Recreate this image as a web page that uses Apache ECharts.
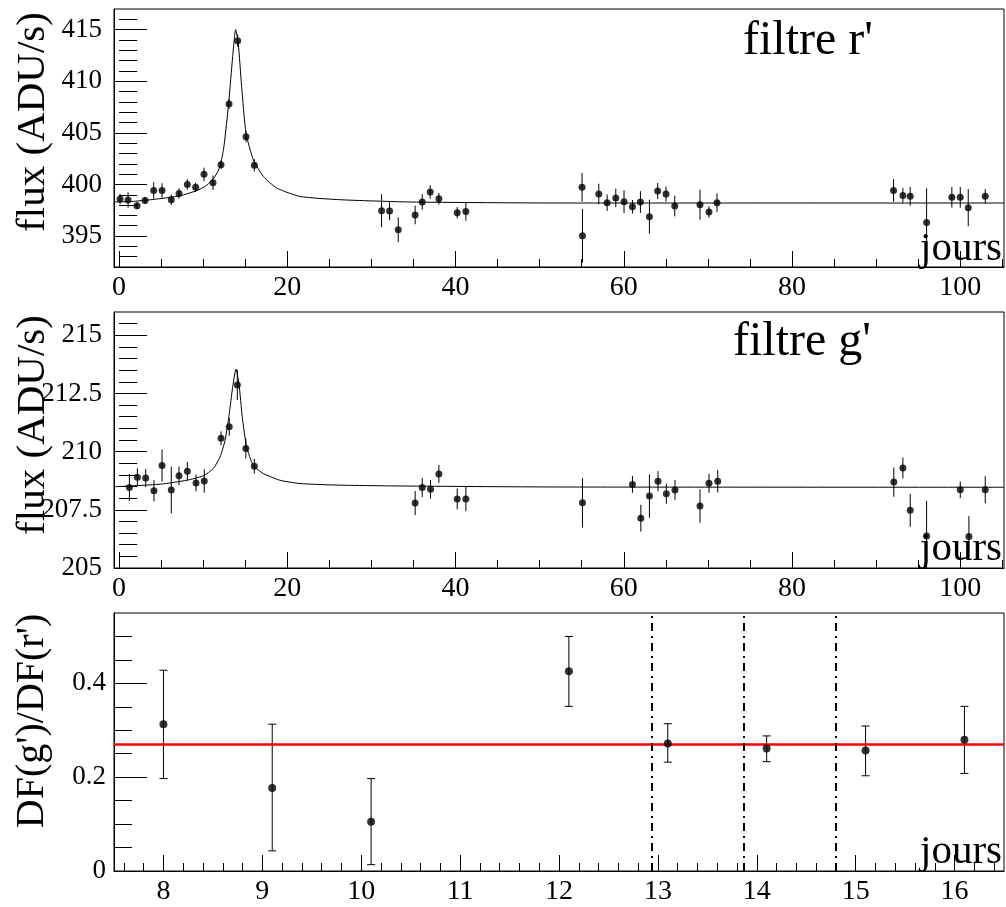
<!DOCTYPE html>
<html><head><meta charset="utf-8">
<script src="https://cdn.jsdelivr.net/npm/echarts@6/dist/echarts.min.js"></script>
<style>html,body{margin:0;padding:0;background:#fff}#c{width:1006px;height:907px}</style>
</head><body><div id="c"></div>
<script>
// ---------- Panel 1 : filtre r' ----------
const rDays = [0.12, 1.07, 2.14, 3.09, 4.12, 5.11, 6.21, 7.13, 8.12, 9.11, 10.10, 11.17, 12.12, 13.07, 14.1, 15.09, 16.08,
  31.21, 32.16, 33.19, 35.2, 36.04, 36.99, 38.02, 40.2, 41.23,
  55.04, 55.09, 57.03, 58.02, 59.05, 60.03, 61.03, 61.98, 63.05, 64.03, 65.02, 66.06, 69.06, 70.13, 71.08,
  92.07, 93.18, 94.05, 96.0, 99.0, 100.0, 100.95, 102.97];
const rFlux = [398.59, 398.49, 397.94, 398.45, 399.42, 399.42, 398.52, 399.13, 400.0, 399.72, 400.98, 400.17, 401.91, 407.8, 413.93, 404.63, 401.85,
  397.46, 397.43, 395.61, 397.04, 398.3, 399.27, 398.62, 397.26, 397.39,
  399.72, 395.03, 399.07, 398.23, 398.69, 398.33, 397.84, 398.3, 396.87, 399.36, 399.07, 397.91, 398.04, 397.33, 398.23,
  399.42, 398.94, 398.85, 396.32, 398.75, 398.75, 397.75, 398.85];
const rErr = [0.5, 0.75, 0.35, 0.35, 0.8, 0.7, 0.5, 0.5, 0.5, 0.45, 0.65, 0.7, 0.4, 0.5, 0.6, 0.55, 0.6,
  1.6, 0.9, 1.2, 0.9, 0.75, 0.65, 0.55, 0.55, 0.9,
  1.4, 2.6, 1.0, 0.8, 0.9, 1.1, 0.65, 1.05, 1.65, 0.78, 0.73, 1.0, 1.45, 0.55, 0.9,
  1.1, 0.7, 0.9, 3.3, 1.0, 1.0, 1.8, 0.7];
const rFitX = [-0.6, 1.7, 4.87, 7.25, 9.23, 10.42, 11.41, 12.0, 12.47, 13.03, 13.51, 13.86, 14.17, 14.57, 15.09, 15.96, 17.15, 18.73, 21.5, 26.26, 34.6, 52.8, 105.2];
const rFitY = [398.3, 398.36, 398.62, 398.91, 399.4, 399.91, 400.78, 401.75, 403.7, 407.9, 412.4, 415.0, 413.7, 409.5, 405.0, 402.4, 400.78, 399.66, 398.84, 398.52, 398.3, 398.2, 398.2];

// ---------- Panel 2 : filtre g' ----------
const gDays = [1.23, 2.18, 3.17, 4.15, 5.11, 6.21, 7.13, 8.12, 9.15, 10.13, 12.12, 13.1, 14.06, 15.07, 16.08,
  35.2, 36.04, 37.03, 38.02, 40.2, 41.23,
  55.09, 61.03, 62.03, 63.05, 64.07, 65.06, 66.09, 69.06, 70.13, 71.17,
  92.1, 93.18, 94.05, 96.0, 100.0, 101.03, 102.97];
const gFlux = [208.46, 208.9, 208.87, 208.32, 209.4, 208.35, 208.96, 209.16, 208.65, 208.74, 210.57, 211.07, 212.86, 210.14, 209.37,
  207.79, 208.46, 208.38, 209.04, 207.97, 207.97,
  207.8, 208.59, 207.14, 208.09, 208.73, 208.19, 208.35, 207.66, 208.64, 208.73,
  208.69, 209.3, 207.48, 206.38, 208.36, 206.35, 208.36];
const gErr = [0.58, 0.38, 0.39, 0.46, 0.69, 1.0, 0.4, 0.4, 0.36, 0.5, 0.3, 0.39, 0.64, 0.43, 0.32,
  0.52, 0.41, 0.4, 0.39, 0.45, 0.53,
  1.06, 0.36, 0.58, 0.93, 0.43, 0.43, 0.43, 0.72, 0.41, 0.48,
  0.63, 0.45, 0.71, 1.5, 0.36, 0.88, 0.58];
const gFitX = [-0.6, 4.87, 8.04, 10.0, 11.2, 12.0, 12.6, 13.1, 13.5, 13.9, 14.26, 14.65, 15.17, 15.96, 17.15, 19.13, 21.5, 26.26, 34.6, 52.8, 105.2];
const gFitY = [208.49, 208.6, 208.77, 208.96, 209.27, 209.77, 210.48, 211.62, 212.76, 213.55, 212.9, 211.48, 210.2, 209.41, 209.06, 208.77, 208.63, 208.56, 208.52, 208.48, 208.47];

// ---------- Panel 3 : DF(g')/DF(r') ----------
const ratioDays = [8.0, 9.1, 10.1, 12.1, 13.1, 14.1, 15.1, 16.1];
const ratio     = [0.313, 0.177, 0.105, 0.426, 0.272, 0.261, 0.257, 0.280];
const ratioLow  = [0.197, 0.043, 0.0135, 0.351, 0.232, 0.233, 0.203, 0.208];
const ratioHigh = [0.428, 0.313, 0.197, 0.500, 0.314, 0.288, 0.309, 0.351];
const ratioMean = 0.269;
const markerDays = [12.94, 13.87, 14.80];

// ---------- tick labels ----------
const lcTicksX = [0, 20, 40, 60, 80, 100];
const rTicksY = [395, 400, 405, 410, 415];
const gTicksY = [205, 207.5, 210, 212.5, 215];
const ratioTicksX = [8, 9, 10, 11, 12, 13, 14, 15, 16];
const ratioTicksY = [0, 0.2, 0.4];

function steps(a, b, s) { const o = []; for (let i = 0; a + i * s <= b + 1e-9; i++) o.push(+(a + i * s).toFixed(4)); return o; }

const FONT = '"Liberation Serif", "Times New Roman", serif';
const BLACK = '#000';

function xMain(gi, min, max, ticks) {
  return { type: 'value', gridIndex: gi, min: min, max: max, position: 'bottom',
    axisLine: { show: true, onZero: false, lineStyle: { color: BLACK, width: 1 } },
    axisTick: { show: true, inside: true, length: 16, customValues: ticks, lineStyle: { color: BLACK, width: 1 } },
    axisLabel: { show: false }, splitLine: { show: false } };
}
function xMinor(gi, min, max, ticks) {
  return { type: 'value', gridIndex: gi, min: min, max: max, position: 'bottom',
    axisLine: { show: false },
    axisTick: { show: true, inside: true, length: 8, customValues: ticks, lineStyle: { color: BLACK, width: 1 } },
    axisLabel: { show: false }, splitLine: { show: false } };
}
function yMain(gi, min, max, ticks) {
  return { type: 'value', gridIndex: gi, min: min, max: max, position: 'left',
    axisLine: { show: true, onZero: false, lineStyle: { color: BLACK, width: 1 } },
    axisTick: { show: true, inside: true, length: 33, customValues: ticks, lineStyle: { color: BLACK, width: 1 } },
    axisLabel: { show: false }, splitLine: { show: false } };
}
function yMinor(gi, min, max, ticks) {
  return { type: 'value', gridIndex: gi, min: min, max: max, position: 'left',
    axisLine: { show: false },
    axisTick: { show: true, inside: true, length: 18, customValues: ticks, lineStyle: { color: BLACK, width: 1 } },
    axisLabel: { show: false }, splitLine: { show: false } };
}

function errRender(cap) {
  return function (params, api) {
    const x = api.value(0);
    const p1 = api.coord([x, api.value(1)]);
    const p2 = api.coord([x, api.value(2)]);
    const st = { stroke: BLACK, lineWidth: 1 };
    const ch = [{ type: 'line', shape: { x1: p1[0], y1: p1[1], x2: p2[0], y2: p2[1] }, style: st }];
    if (cap) {
      ch.push({ type: 'line', shape: { x1: p1[0] - cap, y1: p1[1], x2: p1[0] + cap, y2: p1[1] }, style: st });
      ch.push({ type: 'line', shape: { x1: p2[0] - cap, y1: p2[1], x2: p2[0] + cap, y2: p2[1] }, style: st });
    }
    return { type: 'group', children: ch };
  };
}
function errData(xs, ys, es) { return xs.map((x, i) => [x, ys[i] - es[i], ys[i] + es[i]]); }
function zip(a, b) { return a.map((v, i) => [v, b[i]]); }

const gridBase = { left: 114, width: 890, show: true, borderColor: BLACK, borderWidth: 1, backgroundColor: 'transparent' };

function txt(text, x, y, size, align, rot) {
  return { type: 'text', x: x, y: y, rotation: rot || 0, z: 100,
    style: { text: text, fontFamily: FONT, fontSize: size, fill: BLACK,
      align: align, textAlign: align, verticalAlign: 'middle', textVerticalAlign: 'middle' } };
}

const option = {
  animation: false,
  backgroundColor: '#fff',
  textStyle: { fontFamily: FONT, color: BLACK },
  grid: [
    Object.assign({}, gridBase, { top: 9, height: 258 }),
    Object.assign({}, gridBase, { top: 312, height: 256 }),
    Object.assign({}, gridBase, { top: 613, height: 258 })
  ],
  xAxis: [
    xMain(0, -0.6, 105.2, lcTicksX), xMinor(0, -0.6, 105.2, steps(0, 105, 5)),
    xMain(1, -0.6, 105.2, lcTicksX), xMinor(1, -0.6, 105.2, steps(0, 105, 5)),
    xMain(2, 7.5, 16.5, ratioTicksX), xMinor(2, 7.5, 16.5, steps(7.6, 16.4, 0.2))
  ],
  yAxis: [
    yMain(0, 392, 417, rTicksY), yMinor(0, 392, 417, steps(393, 416, 1)),
    yMain(1, 205, 216, gTicksY), yMinor(1, 205, 216, steps(205.5, 215.5, 0.5)),
    yMain(2, 0, 0.55, ratioTicksY), yMinor(2, 0, 0.55, steps(0.05, 0.5, 0.05))
  ],
  series: [
    { type: 'line', xAxisIndex: 0, yAxisIndex: 0, data: zip(rFitX, rFitY), showSymbol: false, symbol: 'none',
      smooth: 0.2, lineStyle: { color: BLACK, width: 1 }, z: 2, silent: true },
    { type: 'custom', xAxisIndex: 0, yAxisIndex: 0, data: errData(rDays, rFlux, rErr), renderItem: errRender(0),
      encode: { x: 0, y: [1, 2] }, clip: true, z: 3, silent: true },
    { type: 'scatter', xAxisIndex: 0, yAxisIndex: 0, data: zip(rDays, rFlux), symbol: 'circle', symbolSize: 7,
      itemStyle: { color: BLACK }, z: 4, silent: true },

    { type: 'line', xAxisIndex: 2, yAxisIndex: 2, data: zip(gFitX, gFitY), showSymbol: false, symbol: 'none',
      smooth: 0.2, lineStyle: { color: BLACK, width: 1 }, z: 2, silent: true },
    { type: 'custom', xAxisIndex: 2, yAxisIndex: 2, data: errData(gDays, gFlux, gErr), renderItem: errRender(0),
      encode: { x: 0, y: [1, 2] }, clip: true, z: 3, silent: true },
    { type: 'scatter', xAxisIndex: 2, yAxisIndex: 2, data: zip(gDays, gFlux), symbol: 'circle', symbolSize: 7,
      itemStyle: { color: BLACK }, z: 4, silent: true },

    { type: 'custom', xAxisIndex: 4, yAxisIndex: 4, data: ratioDays.map((x, i) => [x, ratioLow[i], ratioHigh[i]]),
      renderItem: errRender(4), encode: { x: 0, y: [1, 2] }, clip: true, z: 3, silent: true },
    { type: 'scatter', xAxisIndex: 4, yAxisIndex: 4, data: zip(ratioDays, ratio), symbol: 'circle', symbolSize: 8,
      itemStyle: { color: BLACK }, z: 5, silent: true,
      markLine: { silent: true, symbol: 'none', label: { show: false }, animation: false,
        data: [
          { yAxis: ratioMean, lineStyle: { color: '#ff0000', width: 2.5, type: 'solid' } }
        ].concat(markerDays.map(d => ({ xAxis: d, lineStyle: { color: BLACK, width: 2, type: [8, 5, 2, 5] } })))
      } }
  ]
};

const chart = echarts.init(document.getElementById('c'), null, { renderer: 'canvas' });
chart.setOption(option);

// tick labels placed through the axes' own scales
const labels = [];
function xLabels(axisIdx, ticks, yPix) {
  ticks.forEach(v => {
    const px = chart.convertToPixel({ xAxisIndex: axisIdx }, v);
    labels.push(txt(String(v), px, yPix, 28, 'center'));
  });
}
function yLabels(axisIdx, ticks, xPix) {
  ticks.forEach(v => {
    const py = chart.convertToPixel({ yAxisIndex: axisIdx }, v);
    labels.push(txt(String(v), xPix, py, 27, 'right'));
  });
}
xLabels(0, lcTicksX, 288);
xLabels(2, lcTicksX, 589);
xLabels(4, ratioTicksX, 892);
yLabels(0, rTicksY, 102);
yLabels(2, gTicksY, 102);
yLabels(4, ratioTicksY, 106);

const titles = [
  txt('flux (ADU/s)', 33, 122, 41, 'center', Math.PI / 2),
  txt('flux (ADU/s)', 33, 425, 41, 'center', Math.PI / 2),
  txt("DF(g')/DF(r')", 32, 721, 40, 'center', Math.PI / 2),
  txt("filtre r'", 743, 41, 48, 'left'),
  txt("filtre g'", 733, 342, 48, 'left'),
  txt('jours', 1002, 249, 41, 'right'),
  txt('jours', 1002, 549, 41, 'right'),
  txt('jours', 1002, 852, 41, 'right')
];
chart.setOption({ graphic: labels.concat(titles) });
</script></body></html>
